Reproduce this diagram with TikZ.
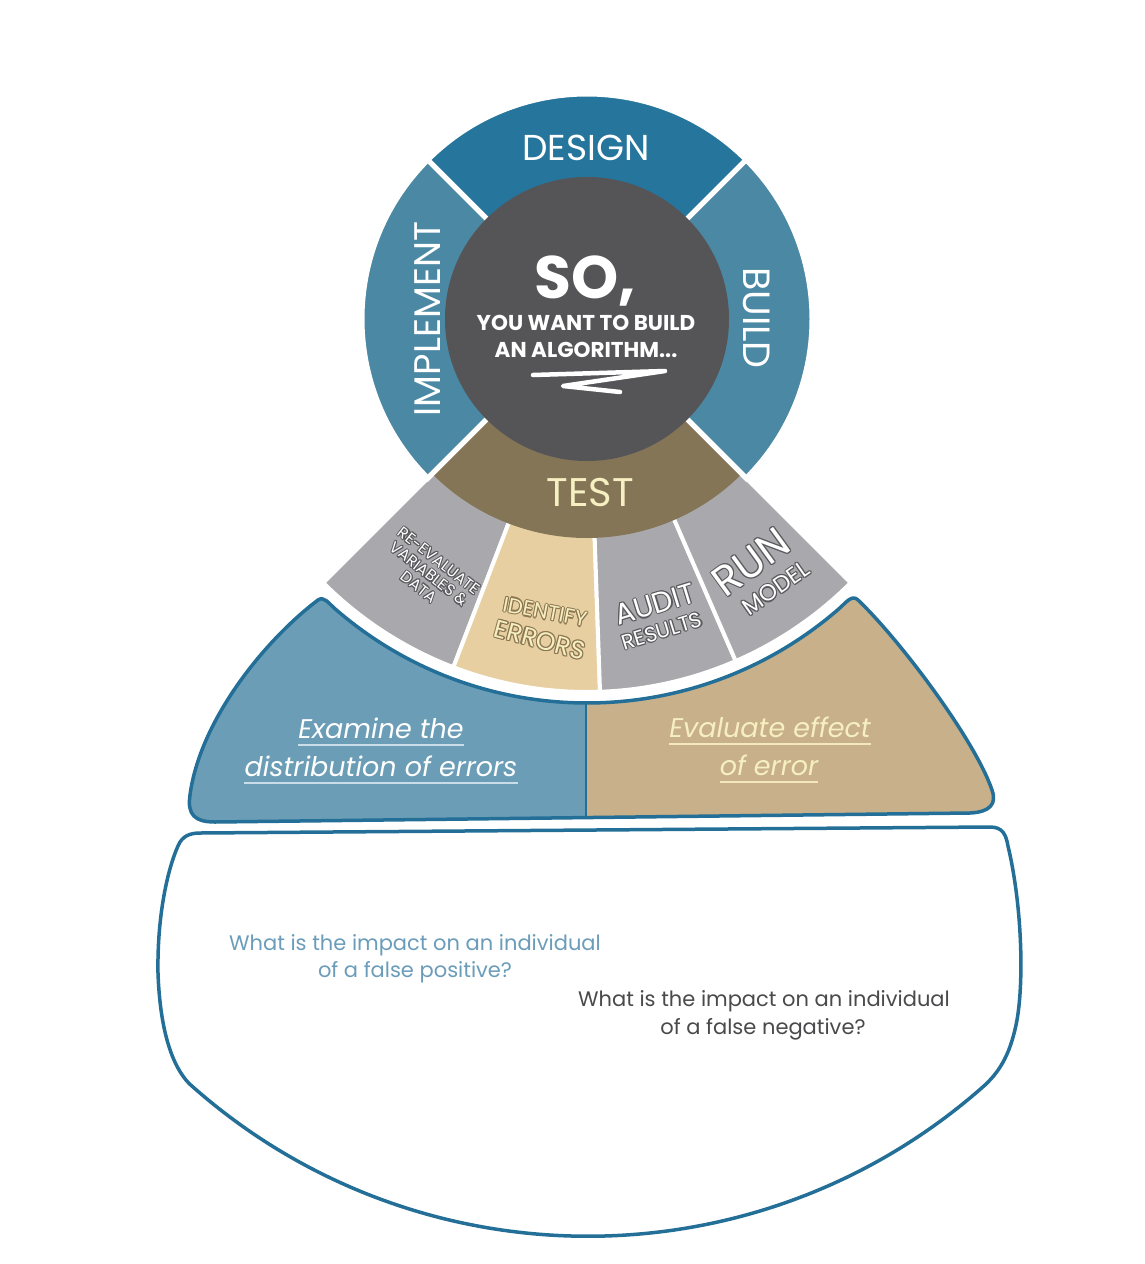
\documentclass[tikz,border=0pt]{standalone}
\usepackage{fontspec}
\setmainfont{Poppins}
\usetikzlibrary{calc}

\definecolor{designblue}{HTML}{26759C}
\definecolor{ringblue}{HTML}{4B88A4}
\definecolor{hubgray}{HTML}{555557}
\definecolor{testbrown}{HTML}{857557}
\definecolor{fangray}{HTML}{A9A9AD}
\definecolor{fanbeige}{HTML}{E7CFA1}
\definecolor{wingblue}{HTML}{6B9EB6}
\definecolor{wingtan}{HTML}{C7B08A}
\definecolor{edgeblue}{HTML}{236F97}
\definecolor{cream}{HTML}{F6EFC1}
\definecolor{halogray}{HTML}{5A5A5E}
\definecolor{halobrown}{HTML}{8C7752}
\definecolor{qblue}{HTML}{6B9DBA}
\definecolor{qgray}{HTML}{4A4A4C}
\definecolor{ulblue}{HTML}{C8DDE8}
\definecolor{ultan}{HTML}{F3E7BC}

\newcommand\fs[1]{\fontsize{#1}{#1}\selectfont}
% annular sector: start angle, end angle, inner radius, outer radius
\newcommand\sector[4]{(#1:#3) arc[start angle=#1, end angle=#2, radius=#3] -- (#2:#4) arc[start angle=#2, end angle=#1, radius=#4] -- cycle}
% outlined label: offset copies in the outline colour, the plain text on top
\newcommand\halonode[6]{%
  \foreach \hang in {0,45,...,315}
    \node[#3, text=#4, font=#5] at ($(#2)+(\hang:1.1)$) {#6};
  \node[#3, font=#5] (#1) at (#2) {#6};}

% outline of the two wings under the fan
\def\wingpath{(318,-600) .. controls (265,-640) and (200,-720) .. (190,-795)
  .. controls (187,-815) and (195,-822) .. (215,-822) -- (970,-813)
  .. controls (990,-812) and (997,-804) .. (992,-790)
  .. controls (975,-740) and (900,-640) .. (858,-600)
  .. controls (852,-594) and (845.9,-602.7) .. (838.9,-608.8)
  arc[start angle=311, end angle=229, radius=384]
  .. controls (328.1,-602.7) and (324,-596) .. (318,-600) -- cycle}

\begin{document}
\begin{tikzpicture}[x=1pt,y=1pt,
  edge/.style={draw=edgeblue, line width=3.5, line join=round},
  ringseg/.style={draw=white, line width=5},
  fanseg/.style={draw=white, line width=4},
  ringtext/.style={text=white, inner sep=0, font=\fs{36}},
  fantext/.style={text=white, inner sep=0},
  wingtext/.style={inner sep=0, font=\itshape\fs{27}},
  question/.style={inner sep=0, anchor=base, font=\fs{21}}]
\useasboundingbox (0,0) rectangle (1145,-1264);

% lower bowl
\draw[edge, fill=white] (200,-833) -- (990,-827)
  .. controls (1003,-827) and (1006,-835) .. (1008,-846)
  .. controls (1022,-905) and (1024,-980) .. (1017,-1020)
  .. controls (1011,-1052) and (1001,-1070) .. (985,-1085)
  arc[start angle=-48.3, end angle=-131.9, radius=597]
  .. controls (172,-1066) and (160,-1030) .. (158,-973)
  .. controls (157,-915) and (168,-868) .. (178,-846)
  .. controls (182,-836) and (190,-833) .. (200,-833) -- cycle;

% wings: blue left half, tan right half
\fill[wingblue] \wingpath;
\begin{scope}
  \clip (586,-550) rectangle (1100,-900);
  \fill[wingtan] \wingpath;
\end{scope}
\draw[edgeblue, line width=2.5] (586,-702) -- (586,-818);
\draw[edge] \wingpath;

% fan and ring around the hub
\begin{scope}[shift={(587,-319)}]
  \path[fill=fangray, fanseg] \sector{225}{249}{205}{373};
  \path[fill=fanbeige, fanseg] \sector{249}{272}{205}{373};
  \path[fill=fangray, fanseg] \sector{272}{293.5}{205}{373};
  \path[fill=fangray, fanseg] \sector{293.5}{315}{205}{373};
  \path[fill=ringblue, ringseg] \sector{135}{225}{120}{225};
  \path[fill=designblue, ringseg] \sector{45}{135}{120}{225};
  \path[fill=ringblue, ringseg] \sector{-45}{45}{120}{225};
  \fill[testbrown] \sector{225}{315}{120}{219};
  \draw[white, line width=5] (225:130) -- (225:228);
  \draw[white, line width=5] (315:130) -- (315:228);
  \node[circle, fill=hubgray, minimum size=284, inner sep=0] (hub) at (0,0) {};
\end{scope}

% hub text
\node[text=white, inner sep=0, anchor=base, font=\bfseries\fs{60}] (so) at (585,-298) {SO,};
\node[text=white, inner sep=0, anchor=base, font=\bfseries\fs{21.5}] (want) at (586,-330) {YOU WANT TO BUILD};
\node[text=white, inner sep=0, anchor=base, font=\bfseries\fs{21.5}] (algo) at (586,-357) {AN ALGORITHM...};
\draw[white, line width=4.5, line cap=round, line join=round]
  (533,-375) -- (665,-371) -- (563,-386) -- (620,-392);

% ring labels
\node[ringtext] (design) at (586,-148) {DESIGN};
\node[ringtext, rotate=90, font=\fs{37}] (implement) at (428,-319) {IMPLEMENT};
\node[ringtext, rotate=-90, font=\fs{38}] (build) at (757,-318) {BUILD};
\node[ringtext, text=cream, font=\fs{40}] (test) at (590,-493) {TEST};

% fan labels
\halonode{reeval}{429,-574}{fantext, rotate=-38, align=center}{halogray}{\fontsize{15.5}{16.5}\selectfont}{RE-EVALUATE\\VARIABLES \&\\DATA}
\halonode{identify}{545,-612}{fantext, text=cream, rotate=-11}{halobrown}{\fs{21}}{IDENTIFY}
\halonode{errors}{540,-640}{fantext, text=cream, rotate=-15}{halobrown}{\fs{25}}{ERRORS}
\halonode{audit}{655,-604}{fantext, rotate=17}{halogray}{\fs{29}}{AUDIT}
\halonode{results}{662,-631}{fantext, rotate=17}{halogray}{\fs{21}}{RESULTS}
\halonode{run}{751,-562}{fantext, rotate=36}{halogray}{\fs{42}}{RUN}
\halonode{model}{776,-588}{fantext, rotate=35}{halogray}{\fs{23}}{MODEL}

% wing captions
\node[wingtext, text=white, anchor=base] (exa) at (381,-738) {Examine the};
\node[wingtext, text=white, anchor=base] (exb) at (381,-776) {distribution of errors};
\node[wingtext, text=cream, anchor=base] (eva) at (770,-737) {Evaluate effect};
\node[wingtext, text=cream, anchor=base] (evb) at (769,-775) {of error};
\draw[ulblue, line width=1.2] ([yshift=-7]exa.base west) -- ([yshift=-7]exa.base east);
\draw[ulblue, line width=1.2] ([yshift=-7]exb.base west) -- ([yshift=-7]exb.base east);
\draw[ultan, line width=1.2] ([yshift=-7]eva.base west) -- ([yshift=-7]eva.base east);
\draw[ultan, line width=1.2] ([yshift=-7]evb.base west) -- ([yshift=-7]evb.base east);

% questions
\node[question, text=qblue] (qa1) at (415,-950) {What is the impact on an individual};
\node[question, text=qblue] (qa2) at (415,-977) {of a false positive?};
\node[question, text=qgray] (qb1) at (764,-1006) {What is the impact on an individual};
\node[question, text=qgray] (qb2) at (763,-1034) {of a false negative?};
\end{tikzpicture}
\end{document}
